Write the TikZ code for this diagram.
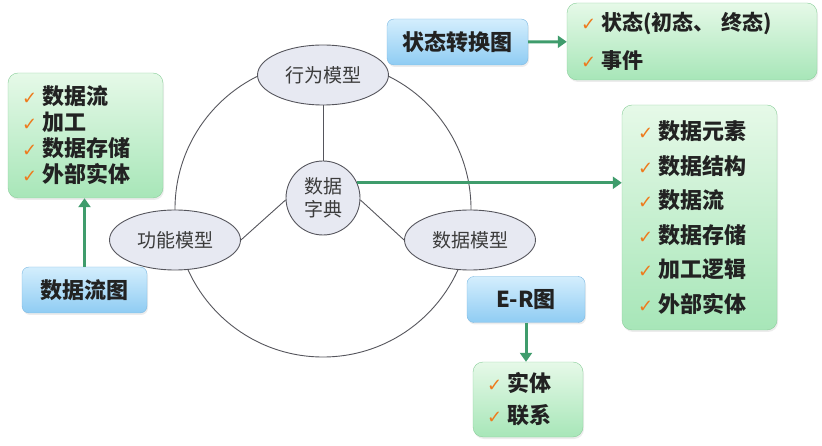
\documentclass[tikz,border=0pt]{standalone}
\usepackage{fontspec}
\newfontfamily\cjk{Noto Sans CJK SC}
\newfontfamily\symb{DejaVu Sans}
\usetikzlibrary{arrows.meta,shapes.geometric,shadows}

\definecolor{edge}{HTML}{55555C}
\definecolor{modelfill}{HTML}{E7E9F2}
\definecolor{modeltext}{HTML}{3C3C3C}
\definecolor{bluedraw}{HTML}{7DB9E2}
\definecolor{bluetop}{HTML}{D4EEFD}
\definecolor{bluebot}{HTML}{8FCCF3}
\definecolor{greendraw}{HTML}{8BCE9B}
\definecolor{greentop}{HTML}{E6F9E8}
\definecolor{greenbot}{HTML}{A7E6B8}
\definecolor{boxtext}{HTML}{222222}
\definecolor{tick}{HTML}{EE7A1C}
\definecolor{flowgreen}{HTML}{3F9C6C}

\newcommand\chk{{\symb\fontsize{18}{18}\selectfont\color{tick}✓}\hspace{5pt}}

\begin{document}
\begin{tikzpicture}[x=1pt, y=-1pt,
  model/.style={ellipse, draw=edge, fill=modelfill, line width=0.9pt,
    minimum width=131pt, minimum height=60pt, inner sep=0pt,
    text=modeltext, font=\cjk\fontsize{19}{19}\selectfont},
  chart/.style={rounded corners=7pt, draw=bluedraw, top color=bluetop,
    bottom color=bluebot, minimum height=46pt, text=boxtext,
    font=\cjk\bfseries\fontsize{22}{22}\selectfont,
    drop shadow={opacity=0.15, shadow xshift=1pt, shadow yshift=-2pt}},
  items/.style={rounded corners=10pt, draw=greendraw, top color=greentop,
    bottom color=greenbot, text=boxtext, align=left, inner xsep=14pt,
    drop shadow={opacity=0.15, shadow xshift=1pt, shadow yshift=-2pt}},
  flow/.style={draw=flowgreen, line width=3pt, -{Triangle[width=12pt,length=9pt]}},
  link/.style={draw=edge, line width=0.9pt}]
\useasboundingbox (0,0) rectangle (822,446);

% three models round the data dictionary
\node[circle, draw=edge, line width=0.9pt, minimum size=296pt] (ring) at (323,209) {};
\node[model] (beh) at (323,75) {行为模型};
\node[model] (fun) at (175,240) {功能模型};
\node[model] (dat) at (470,240) {数据模型};
\node[circle, draw=edge, fill=modelfill, line width=0.9pt, minimum size=74pt,
  inner sep=0pt, align=center, text=modeltext,
  font=\cjk\fontsize{19}{23}\selectfont] (dict) at (323,198) {数据\\字典};
\draw[link] (beh) -- (dict);
\draw[link] (dict.183) -- (fun.east);
\draw[link] (dict.-3) -- (dat.west);

% charts
\node[chart, minimum width=141pt] (st) at (457.5,42) {状态转换图};
\node[chart, minimum width=125pt] (dfd) at (84.5,290) {数据流图};
\node[chart, minimum width=118pt] (er) at (526,299.5) {E-R图};

% lists
\node[items, text width=222pt, minimum height=77pt,
  font=\cjk\bfseries\fontsize{21}{38}\selectfont] (stlist) at (692,41.5)
  {\chk 状态(初态、 终态)\\ \chk 事件};
\node[items, text width=127pt, minimum height=125pt,
  font=\cjk\bfseries\fontsize{22}{26}\selectfont] (dfdlist) at (85.5,135.5)
  {\chk 数据流\\ \chk 加工\\ \chk 数据存储\\ \chk 外部实体};
\node[items, text width=123pt, minimum height=225pt, inner xsep=16pt,
  font=\cjk\bfseries\fontsize{22}{34.5}\selectfont] (dictlist) at (699.5,217.5)
  {\chk 数据元素\\ \chk 数据结构\\ \chk 数据流\\ \chk 数据存储\\ \chk 加工逻辑\\ \chk 外部实体};
\node[items, text width=82pt, minimum height=75pt,
  font=\cjk\bfseries\fontsize{22}{32}\selectfont] (erlist) at (528,399.5)
  {\chk 实体\\ \chk 联系};

% arrows
\draw[flow] (st) -- (stlist);
\draw[flow] (dfd) -- (dfd |- dfdlist.south);
\draw[flow] (er) -- (er |- erlist.north);
\draw[flow] (dict.24) -- (dict.24 -| dictlist.west);
\end{tikzpicture}
\end{document}
